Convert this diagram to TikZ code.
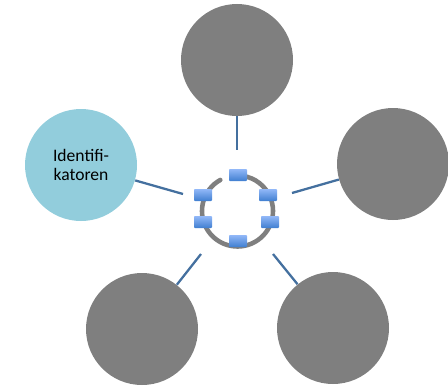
\documentclass[tikz,border=0pt]{standalone}
\usepackage{fontspec}
\setmainfont{Carlito}
\definecolor{circlegray}{HTML}{7F7F7F}
\definecolor{circleblue}{HTML}{92CDDC}
\definecolor{linkblue}{HTML}{44709F}
\definecolor{boxtop}{HTML}{92B8F8}
\definecolor{boxbottom}{HTML}{3F7ED0}
\def\pxsize{0.02cm}

\begin{document}
\begin{tikzpicture}[x=\pxsize,y=\pxsize]
    \tikzstyle{petal}=[circle,fill=circlegray,minimum size=112*\pxsize,inner sep=0pt]
    \tikzstyle{petal active}=[petal,fill=circleblue,align=center,font=\fontsize{10}{11}\selectfont]
    \tikzstyle{link}=[draw=linkblue,line width=1.3pt]
    \tikzstyle{handle}=[rectangle,rounded corners=0.5pt,top color=boxtop,bottom color=boxbottom,minimum width=18*\pxsize,minimum height=12*\pxsize,inner sep=0pt]

    \useasboundingbox (0,0) rectangle (448,-385);

    % Draw the outer circles
    \node[petal] (P-top) at (237,-60) {};
    \node[petal] (P-right) at (393,-164) {};
    \node[petal] (P-lowleft) at (142,-329) {};
    \node[petal] (P-lowright) at (333,-328) {};
    \node[petal active] (P-left) at (81,-165) {Identifi-\\katoren};

    % Free ends of the connectors near the ring
    \coordinate (E-top) at (237,-150);
    \coordinate (E-right) at (292,-193);
    \coordinate (E-left) at (183,-194);
    \coordinate (E-lowleft) at (201,-254);
    \coordinate (E-lowright) at (273,-254);

    % Connect every outer circle with its free end
    \foreach \name in {top,right,left,lowleft,lowright}
        \path[link] (P-\name) -- (E-\name);

    % Draw the ring, open at the upper left
    \coordinate (ring) at (237.5,-211);
    \draw[circlegray,line width=2.6pt,line cap=round] ([shift={(119:35.5)}]ring) arc[start angle=119,end angle=450,radius=35.5];

    % Draw the handles on the ring
    \foreach \name / \x / \y in {1/238/175,2/268/195,3/270/222,4/238/241,5/203/222,6/203/195}
        \node[handle] (H-\name) at (\x,-\y) {};
\end{tikzpicture}
\end{document}
